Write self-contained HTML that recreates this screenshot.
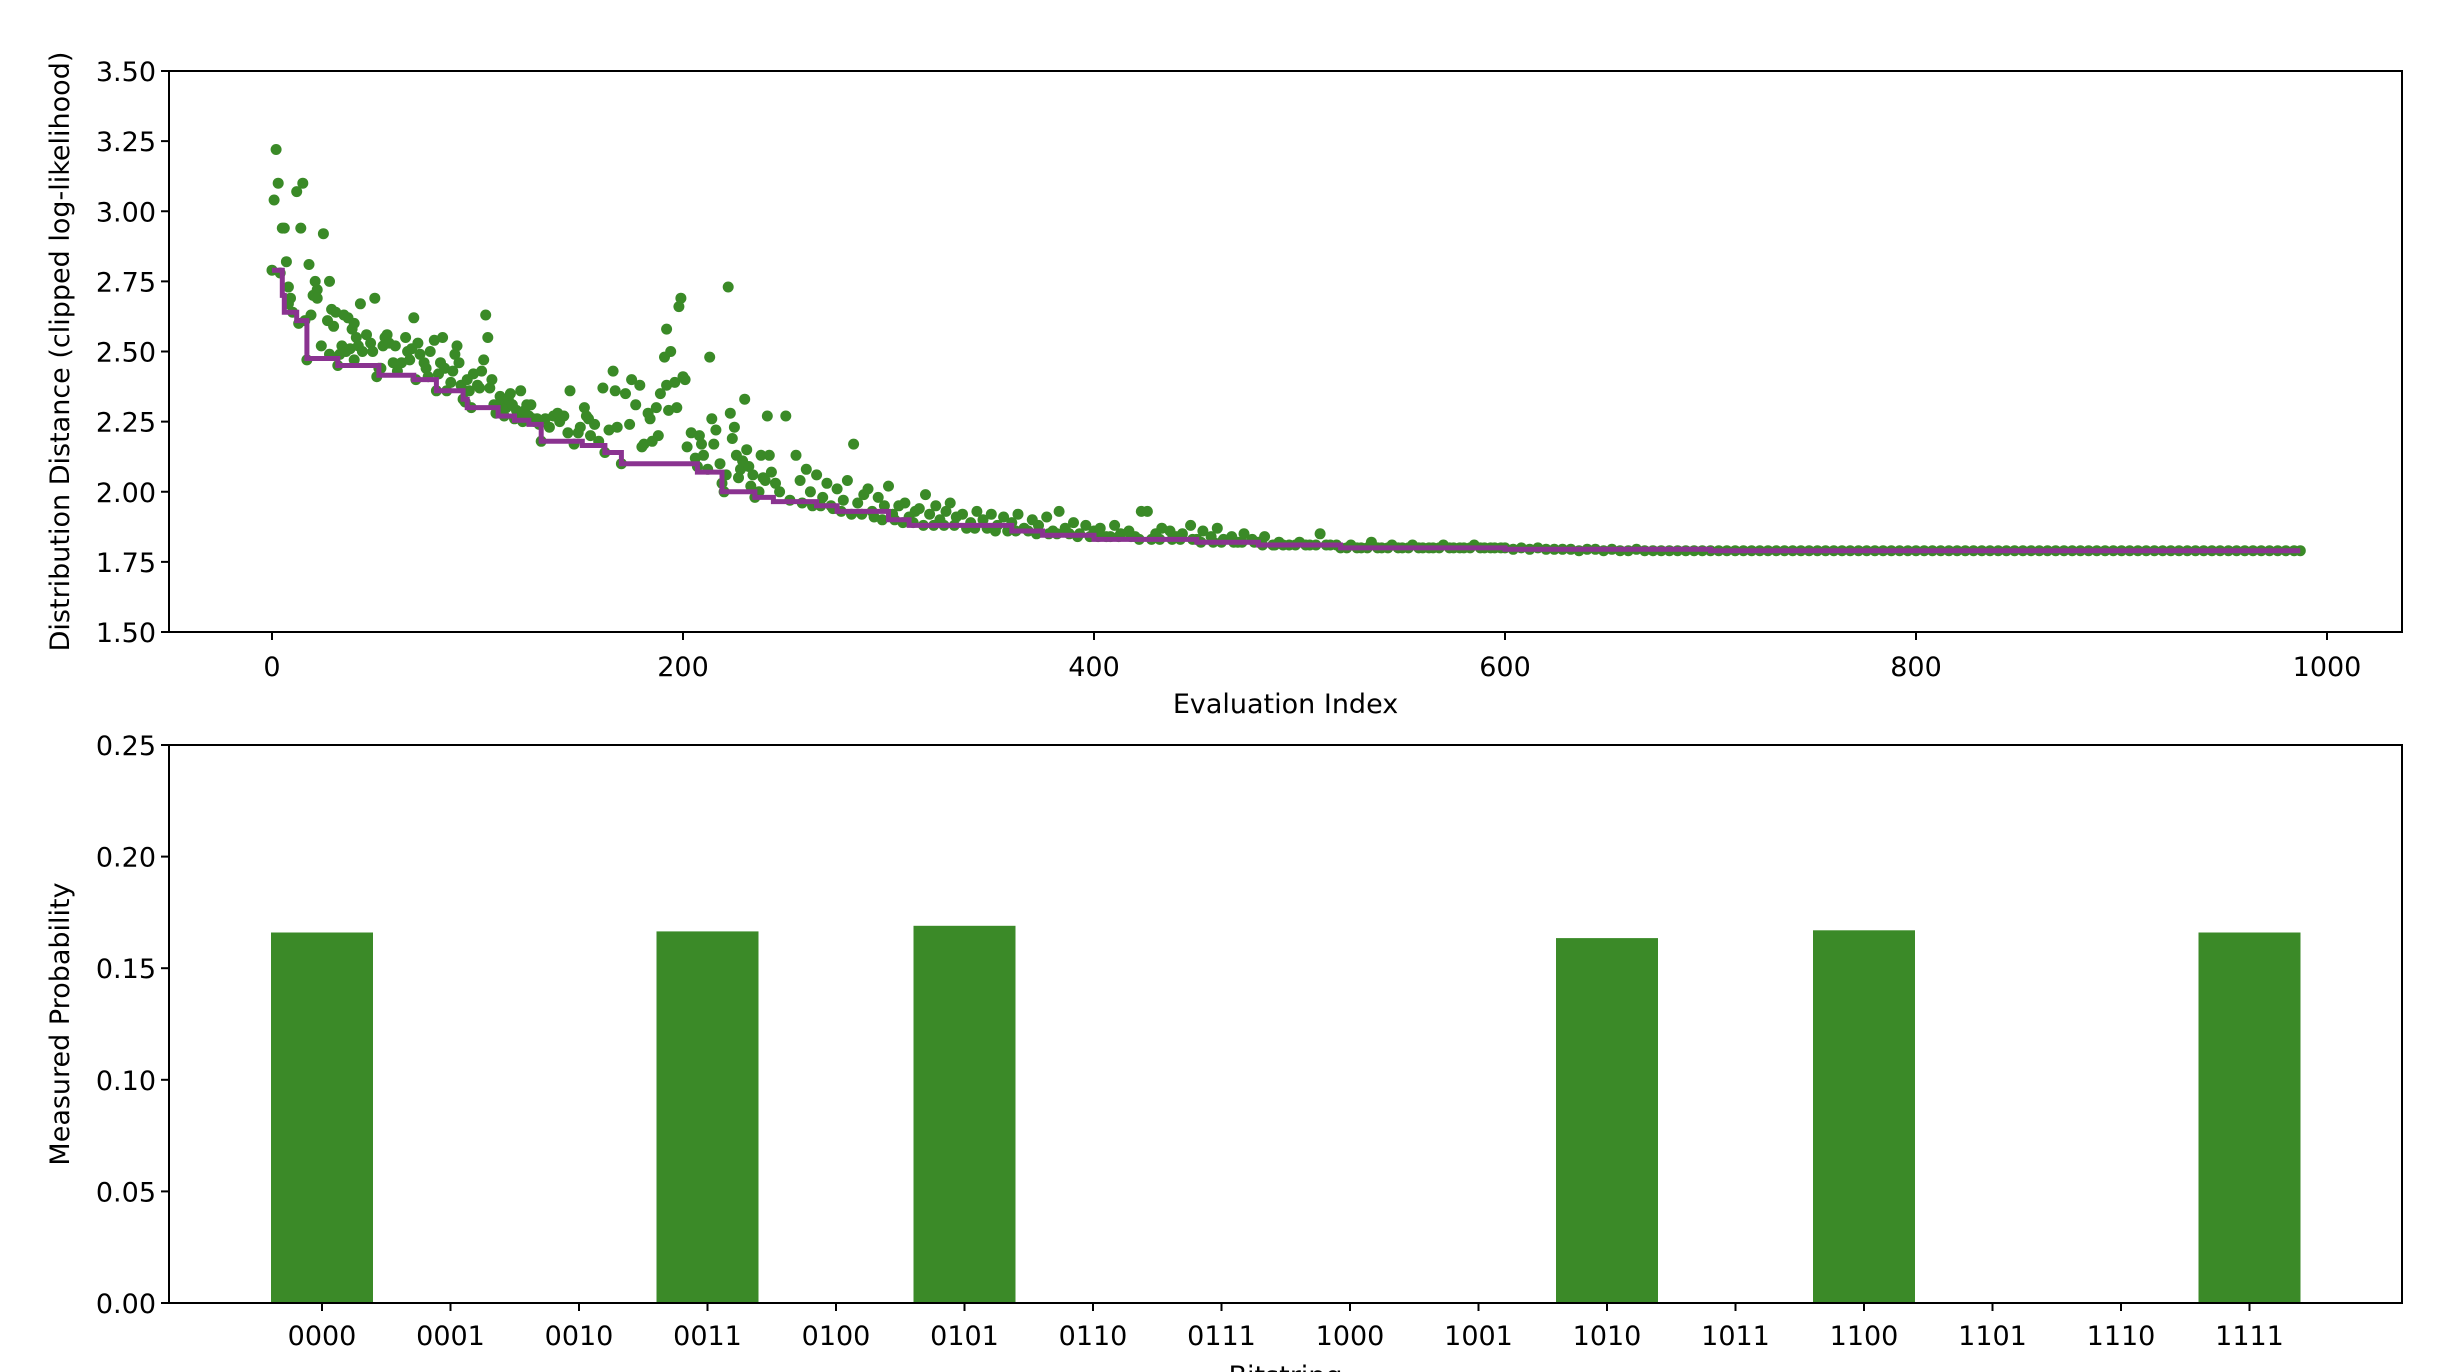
<!DOCTYPE html>
<html><head><meta charset="utf-8"><style>
html,body{margin:0;padding:0;background:#fff;}
svg{display:block;font-family:"DejaVu Sans","Liberation Sans",sans-serif;}
</style></head><body>
<svg id="fig" width="2458" height="1372" viewBox="0 0 2458 1372" xmlns="http://www.w3.org/2000/svg"></svg>
<script>
// ---- Top chart data ----
const bestIdx = [0,5,6,12,17,32,52,69,80,93,95,110,118,125,131,151,162,170,207,219,235,244,265,275,300,310,360,375,400,450,480,520,600,700,987];
const bestVal = [2.79,2.70,2.64,2.61,2.475,2.45,2.415,2.40,2.36,2.33,2.30,2.27,2.255,2.24,2.18,2.165,2.14,2.10,2.07,2.00,1.98,1.965,1.95,1.93,1.90,1.88,1.86,1.845,1.83,1.82,1.81,1.80,1.795,1.79,1.79];
const scatterIdx = [0,1,2,3,4,5,6,7,8,8,9,10,12,13,14,15,16,17,18,19,20,21,22,22,24,25,27,28,28,29,30,31,32,33,34,35,36,37,38,39,40,40,41,42,43,44,46,48,49,50,51,52,53,54,55,56,57,59,60,61,63,65,66,67,68,69,70,71,72,74,75,76,77,79,80,81,82,83,84,85,87,88,89,90,91,92,93,94,95,96,97,98,100,101,102,103,104,105,106,107,108,109,110,111,112,113,114,115,116,117,118,119,120,121,122,123,124,125,126,127,128,129,130,
131,133,135,137,139,140,142,144,145,147,149,150,152,153,154,155,157,159,161,162,164,166,167,168,170,172,174,175,177,179,180,181,183,184,185,187,188,189,191,192,192,193,194,196,197,198,199,200,201,202,204,206,207,208,209,210,212,213,214,215,216,218,219,220,221,222,223,224,225,226,227,228,229,230,231,232,233,234,235,237,238,239,240,241,242,243,245,247,
250,255,257,260,262,265,268,270,272,275,278,280,283,285,288,290,292,295,298,300,302,305,308,310,313,315,318,320,323,325,328,330,333,336,340,343,346,350,353,356,360,363,366,370,373,377,380,383,386,390,393,396,400,403,406,410,413,417,420,423,426,430,433,437,440,443,447,450,453,457,460,463,467,470,473,477,480,483,487,490,495,500,505,510,515,520,525,530,535,540,545,550,555,560,565,570,575,580,585,590,595,
252,258,263,267,273,277,282,287,293,297,303,307,312,317,322,327,332,338,342,348,352,358,362,368,372,378,382,388,392,398,402,408,412,418,422,428,432,438,442,448,452,458,462,468,472,478,482,488,492,498,503,508,513,518,523,528,533,538,543,548,553,558,563,568,573,578,583,588,593,598,
600,604,608,612,616,620,624,628,632,636,640,644,648,652,656,660,664,668,672,676,680,684,688,692,696,700,704,708,712,716,720,724,728,732,736,740,744,748,752,756,760,764,768,772,776,780,784,788,792,796,800,804,808,812,816,820,824,828,832,836,840,844,848,852,856,860,864,868,872,876,880,884,888,892,896,900,904,908,912,916,920,924,928,932,936,940,944,948,952,956,960,964,968,972,976,980,984,987];
const scatterVal = [2.79,3.04,3.22,3.10,2.78,2.94,2.94,2.82,2.73,2.67,2.69,2.64,3.07,2.60,2.94,3.10,2.61,2.47,2.81,2.63,2.70,2.75,2.72,2.69,2.52,2.92,2.61,2.75,2.49,2.65,2.59,2.64,2.45,2.49,2.52,2.63,2.50,2.62,2.51,2.58,2.60,2.47,2.55,2.52,2.67,2.50,2.56,2.53,2.50,2.69,2.41,2.44,2.44,2.52,2.55,2.56,2.53,2.46,2.52,2.43,2.46,2.55,2.50,2.47,2.51,2.62,2.40,2.53,2.49,2.46,2.44,2.41,2.50,2.54,2.36,2.42,2.46,2.55,2.44,2.36,2.39,2.43,2.49,2.52,2.46,2.38,2.33,2.32,2.40,2.36,2.30,2.42,2.38,2.37,2.43,2.47,2.63,2.55,2.37,2.40,2.31,2.28,2.30,2.34,2.32,2.27,2.30,2.33,2.35,2.31,2.26,2.29,2.27,2.36,2.25,2.29,2.31,2.27,2.31,2.26,2.25,2.26,2.24,
2.18,2.26,2.23,2.27,2.28,2.25,2.27,2.21,2.36,2.17,2.21,2.23,2.30,2.27,2.26,2.20,2.24,2.18,2.37,2.14,2.22,2.43,2.36,2.23,2.10,2.35,2.24,2.40,2.31,2.38,2.16,2.17,2.28,2.26,2.18,2.30,2.20,2.35,2.48,2.58,2.38,2.29,2.50,2.39,2.30,2.66,2.69,2.41,2.40,2.16,2.21,2.12,2.09,2.20,2.17,2.13,2.08,2.48,2.26,2.17,2.22,2.10,2.03,2.00,2.06,2.73,2.28,2.19,2.23,2.13,2.05,2.08,2.11,2.33,2.15,2.09,2.02,2.06,1.98,2.00,2.13,2.05,2.04,2.27,2.13,2.07,2.03,2.00,
2.27,2.13,2.04,2.08,2.00,2.06,1.98,2.03,1.95,2.01,1.97,2.04,2.17,1.96,1.99,2.01,1.93,1.98,1.95,2.02,1.92,1.95,1.96,1.91,1.93,1.94,1.99,1.92,1.95,1.90,1.93,1.96,1.91,1.92,1.89,1.93,1.90,1.92,1.88,1.91,1.89,1.92,1.87,1.90,1.88,1.91,1.86,1.93,1.87,1.89,1.85,1.88,1.86,1.87,1.84,1.88,1.85,1.86,1.84,1.93,1.93,1.85,1.87,1.86,1.84,1.85,1.88,1.83,1.86,1.84,1.87,1.83,1.84,1.82,1.85,1.83,1.82,1.84,1.81,1.82,1.81,1.82,1.81,1.85,1.81,1.80,1.81,1.80,1.82,1.80,1.81,1.80,1.81,1.80,1.80,1.81,1.80,1.80,1.81,1.80,1.80,
1.97,1.96,1.95,1.95,1.94,1.93,1.92,1.92,1.91,1.90,1.90,1.89,1.89,1.88,1.88,1.88,1.88,1.87,1.87,1.87,1.86,1.86,1.86,1.86,1.85,1.85,1.85,1.85,1.84,1.84,1.84,1.84,1.84,1.84,1.83,1.83,1.83,1.83,1.83,1.83,1.82,1.82,1.82,1.82,1.82,1.82,1.81,1.81,1.81,1.81,1.81,1.81,1.81,1.81,1.80,1.80,1.80,1.80,1.80,1.80,1.80,1.80,1.80,1.80,1.80,1.80,1.80,1.80,1.80,1.80,
1.80,1.795,1.80,1.795,1.80,1.795,1.795,1.795,1.795,1.79,1.795,1.795,1.79,1.795,1.79,1.79,1.795,1.79,1.79,1.79,1.79,1.79,1.79,1.79,1.79,1.79,1.79,1.79,1.79,1.79,1.79,1.79,1.79,1.79,1.79,1.79,1.79,1.79,1.79,1.79,1.79,1.79,1.79,1.79,1.79,1.79,1.79,1.79,1.79,1.79,1.79,1.79,1.79,1.79,1.79,1.79,1.79,1.79,1.79,1.79,1.79,1.79,1.79,1.79,1.79,1.79,1.79,1.79,1.79,1.79,1.79,1.79,1.79,1.79,1.79,1.79,1.79,1.79,1.79,1.79,1.79,1.79,1.79,1.79,1.79,1.79,1.79,1.79,1.79,1.79,1.79,1.79,1.79,1.79,1.79,1.79,1.79,1.79];
const topXTicks = [0,200,400,600,800,1000];
const topYTicks = [1.50,1.75,2.00,2.25,2.50,2.75,3.00,3.25,3.50];
// ---- Bottom chart data ----
const bitstrings = ["0000","0001","0010","0011","0100","0101","0110","0111","1000","1001","1010","1011","1100","1101","1110","1111"];
const probs = [0.166,0,0,0.1665,0,0.169,0,0,0,0,0.1635,0,0.167,0,0,0.166];
const botYTicks = [0.00,0.05,0.10,0.15,0.20,0.25];

const NS = "http://www.w3.org/2000/svg";
const svg = document.getElementById('fig');
function mk(tag, attrs, parent){const e=document.createElementNS(NS,tag);for(const k in attrs)e.setAttribute(k,attrs[k]);(parent||svg).appendChild(e);return e;}

const FS = 27;
// top axes
const T = {x0:169,x1:2402,y0:71,y1:632};
const tx = v => 272 + v*2.055;
const ty = v => T.y1 - (v-1.5)/(3.5-1.5)*(T.y1-T.y0);
// bottom axes
const B = {x0:169,x1:2402,y0:745,y1:1303};
const bx = i => 322 + i*128.5;
const by = v => B.y1 - v/0.25*(B.y1-B.y0);

// scatter
const gS = mk('g',{});


for(let i=0;i<scatterIdx.length;i++){
  const c = mk('circle',{cx:tx(scatterIdx[i]).toFixed(1),cy:ty(scatterVal[i]).toFixed(1),r:5.5,fill:'#3a8a27'},gS);
  
  
}
// best-so-far step line
let d='';
for(let i=0;i<bestIdx.length;i++){
  const x=tx(bestIdx[i]).toFixed(1), y=ty(bestVal[i]).toFixed(1);
  if(i===0) d+='M'+x+' '+y; else d+=' H'+x+' V'+y;
}
const bl = mk('path',{d:d,fill:'none',stroke:'#8a3390',"stroke-width":5,"stroke-linejoin":'miter'});



// top frame
const tf = mk('rect',{x:T.x0,y:T.y0,width:T.x1-T.x0,height:T.y1-T.y0,fill:'none',stroke:'#000',"stroke-width":2});


topXTicks.forEach(v=>{
  mk('line',{x1:tx(v),x2:tx(v),y1:T.y1,y2:T.y1+8,stroke:'#000',"stroke-width":2});
  const t=mk('text',{x:tx(v),y:676,"font-size":FS,"text-anchor":'middle',fill:'#000'});t.textContent=String(v);
  
  
});
topYTicks.forEach(v=>{
  mk('line',{x1:T.x0-8,x2:T.x0,y1:ty(v),y2:ty(v),stroke:'#000',"stroke-width":2});
  const t=mk('text',{x:T.x0-13,y:ty(v)+10,"font-size":FS,"text-anchor":'end',fill:'#000'});t.textContent=v.toFixed(2);
  
  
});
let t1=mk('text',{x:(T.x0+T.x1)/2,y:713,"font-size":FS,"text-anchor":'middle'});t1.textContent='Evaluation Index';


let t2=mk('text',{x:0,y:0,"font-size":FS,"text-anchor":'middle',transform:'translate(69,'+((T.y0+T.y1)/2)+') rotate(-90)'});t2.textContent='Distribution Distance (clipped log-likelihood)';



// bars
probs.forEach((p,i)=>{
  if(p<=0) return;
  const r=mk('rect',{x:(bx(i)-51).toFixed(1),y:by(p).toFixed(1),width:102,height:(B.y1-by(p)).toFixed(1),fill:'#3b8a28'});
  
  
});
const bf = mk('rect',{x:B.x0,y:B.y0,width:B.x1-B.x0,height:B.y1-B.y0,fill:'none',stroke:'#000',"stroke-width":2});


bitstrings.forEach((s,i)=>{
  mk('line',{x1:bx(i),x2:bx(i),y1:B.y1,y2:B.y1+8,stroke:'#000',"stroke-width":2});
  const t=mk('text',{x:bx(i),y:1345,"font-size":FS,"text-anchor":'middle'});t.textContent=s;
  
  
});
botYTicks.forEach(v=>{
  mk('line',{x1:B.x0-8,x2:B.x0,y1:by(v),y2:by(v),stroke:'#000',"stroke-width":2});
  const t=mk('text',{x:B.x0-13,y:by(v)+10,"font-size":FS,"text-anchor":'end'});t.textContent=v.toFixed(2);
  
  
});
let t3=mk('text',{x:(B.x0+B.x1)/2,y:1385,"font-size":FS,"text-anchor":'middle'});t3.textContent='Bitstring';


let t4=mk('text',{x:0,y:0,"font-size":FS,"text-anchor":'middle',transform:'translate(69,'+((B.y0+B.y1)/2)+') rotate(-90)'});t4.textContent='Measured Probability';


</script>
</body></html>
